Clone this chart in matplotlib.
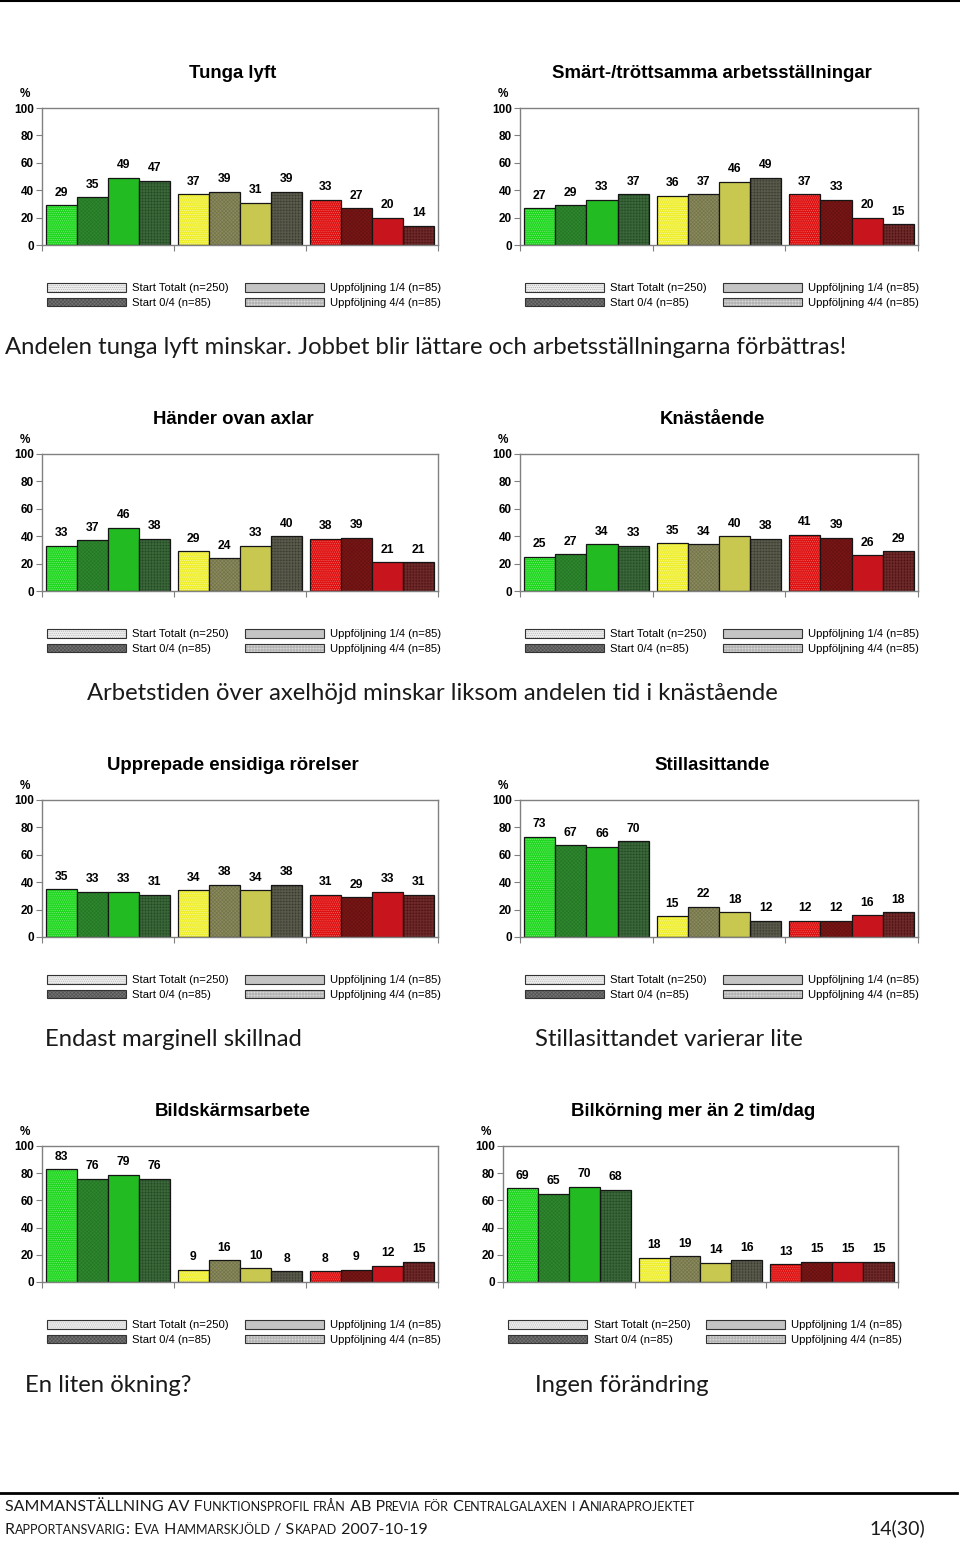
import numpy as np
import matplotlib
matplotlib.use('Agg')
import matplotlib.pyplot as plt
from matplotlib.patches import Patch
from matplotlib.lines import Line2D
from matplotlib.font_manager import FontProperties

W, H = 960, 1541

series = ['Start Totalt (n=250)', 'Start 0/4 (n=85)',
          'Uppföljning 1/4 (n=85)', 'Uppföljning 4/4 (n=85)']

# values per panel: 3 groups (green / yellow / red) x 4 series
tunga_lyft = [[29, 35, 49, 47], [37, 39, 31, 39], [33, 27, 20, 14]]
smart_trott = [[27, 29, 33, 37], [36, 37, 46, 49], [37, 33, 20, 15]]
hander_ovan = [[33, 37, 46, 38], [29, 24, 33, 40], [38, 39, 21, 21]]
knastaende = [[25, 27, 34, 33], [35, 34, 40, 38], [41, 39, 26, 29]]
upprepade = [[35, 33, 33, 31], [34, 38, 34, 38], [31, 29, 33, 31]]
stillasittande = [[73, 67, 66, 70], [15, 22, 18, 12], [12, 12, 16, 18]]
bildskarm = [[83, 76, 79, 76], [9, 16, 10, 8], [8, 9, 12, 15]]
bilkorning = [[69, 65, 70, 68], [18, 19, 14, 16], [13, 15, 15, 15]]

titles = ['Tunga lyft', 'Smärt-/tröttsamma arbetsställningar',
          'Händer ovan axlar', 'Knästående',
          'Upprepade ensidiga rörelser', 'Stillasittande',
          'Bildskärmsarbete', 'Bilkörning mer än 2 tim/dag']
panel_data = [tunga_lyft, smart_trott, hander_ovan, knastaende,
              upprepade, stillasittande, bildskarm, bilkorning]

comments = [
    (5, 348, 'Andelen tunga lyft minskar. Jobbet blir lättare och arbetsställningarna förbättras!'),
    (87, 693, 'Arbetstiden över axelhöjd minskar liksom andelen tid i knästående'),
    (45, 1039, 'Endast marginell skillnad'),
    (535, 1039, 'Stillasittandet varierar lite'),
    (25, 1385, 'En liten ökning?'),
    (535, 1385, 'Ingen förändring'),
]

# bar colours (fill, texture colour) per group and series
fills = [['#1fd61f', '#2e882e', '#22bb22', '#1a401a'],
         ['#eeee2c', '#8a8a5c', '#c8c850', '#303026'],
         ['#de1010', '#7a1616', '#c8141c', '#420808']]
hcols = [['#7cf07c', '#267526', '#22bb22', '#3a663a'],
         ['#fafaa8', '#73734c', '#c8c850', '#5a5a4c'],
         ['#f06a6a', '#641111', '#c8141c', '#6e2a2a']]
hatches = ['.' * 8, 'x' * 9, '', '+' * 11]

leg_fill = ['#eeeeee', '#727272', '#c4c4c4', '#e6e6e6']
leg_hatch = ['#b4b4b4', '#505050', '#b0b0b0', '#b4b4b4']

plt.rcParams['font.family'] = ['Liberation Sans', 'DejaVu Sans']
plt.rcParams['hatch.linewidth'] = 0.45

fig = plt.figure(figsize=(W / 100, H / 100), dpi=100)

# axes positions in pixels: left, right, top(100), bottom(0)
rows = [(108, 245), (454, 591), (800, 937), (1146, 1282)]
cols = [(42, 438), (520, 918)]


def fx(px):
    return px / W


def fy(py):
    return 1 - py / H


def draw_panel(ax, values, title):
    x = np.arange(3)
    w = 0.235
    for s in range(4):
        vals = [values[g][s] for g in range(3)]
        xs = x + (s - 1.5) * w
        ax.bar(xs, vals, w, color=[fills[g][s] for g in range(3)],
               edgecolor=[hcols[g][s] for g in range(3)],
               hatch=hatches[s] or None, linewidth=0)
        ax.bar(xs, vals, w, fill=False, edgecolor='#151515', linewidth=0.9)
        for xx, v in zip(xs, vals):
            ax.annotate(str(v), (xx, v), xytext=(0, 9), textcoords='offset points',
                        ha='center', va='center', fontsize=8.7, fontweight='bold')
    ax.set_xlim(-0.5, 2.5)
    ax.set_ylim(0, 100)
    ax.set_yticks(range(0, 101, 20))
    ax.set_yticklabels([str(v) for v in range(0, 101, 20)], fontsize=8.5, fontweight='bold')
    ax.set_xticks([-0.5, 0.5, 1.5, 2.5])
    ax.set_xticklabels([])
    ax.tick_params(axis='both', length=4, width=0.8, color='#808080', pad=2)
    for sp in ax.spines.values():
        sp.set_color('#808080')
        sp.set_linewidth(1)
    ax.annotate('%', (0, 1), xycoords='axes fraction', xytext=(-12, 10),
                textcoords='offset points', ha='center', va='center',
                fontsize=8.5, fontweight='bold')
    ax.annotate(title, (0.5, 1), xycoords='axes fraction', xytext=(-5, 25),
                textcoords='offset points', ha='center', va='center',
                fontsize=13.4, fontweight='bold')


def legend_handles():
    hs = []
    for s in range(4):
        hs.append((Patch(facecolor=leg_fill[s], edgecolor=leg_hatch[s],
                         hatch=hatches[s] or None, linewidth=0),
                   Patch(fill=False, edgecolor='#333333', linewidth=0.8)))
    return hs


for i, (vals, title) in enumerate(zip(panel_data, titles)):
    r, c = divmod(i, 2)
    top, bot = rows[r]
    left, right = cols[c]
    if i == 7:
        left, right = 503, 898
    ax = fig.add_axes([fx(left), fy(bot), fx(right - left), (bot - top) / H])
    draw_panel(ax, vals, title)
    fig.legend(legend_handles(), series, loc='upper left',
               bbox_to_anchor=(fx(left + 5), fy(bot + 38)),
               bbox_transform=fig.transFigure, ncol=2, frameon=False,
               fontsize=8.1, handlelength=7.0, handleheight=0.82,
               handletextpad=0.6, columnspacing=1.4, labelspacing=0.38,
               borderpad=0, borderaxespad=0)

for x, y, s in comments:
    fig.text(fx(x), fy(y), s, fontsize=17.2, family='Lato', color='#1a1a1a', va='center')

# page border lines
fig.add_artist(Line2D([0, 1], [fy(1), fy(1)], transform=fig.transFigure, color='black', lw=1.5))
fig.add_artist(Line2D([0, 0.997], [fy(1493), fy(1493)], transform=fig.transFigure, color='black', lw=2))

renderer = fig.canvas.get_renderer()


def small_caps(x, y, s, big, small):
    runs = []
    for ch in s:
        low = ch.islower()
        if runs and runs[-1][1] == low:
            runs[-1][0] += ch
        else:
            runs.append([ch, low])
    for txt, low in runs:
        size = small if low else big
        t = txt.upper()
        fig.text(fx(x), fy(y), t, fontsize=size, family='Lato', va='baseline', color='#1a1a1a')
        fp = FontProperties(family='Lato', size=size)
        w1 = renderer.get_text_width_height_descent('|' + t + '|', fp, False)[0]
        w0 = renderer.get_text_width_height_descent('||', fp, False)[0]
        x += w1 - w0


small_caps(5, 1511, 'SAMMANSTÄLLNING AV Funktionsprofil från AB Previa för Centralgalaxen i Aniaraprojektet', 11.5, 9)
small_caps(5, 1534, 'Rapportansvarig: Eva Hammarskjöld / Skapad 2007-10-19', 11.5, 9)
fig.text(fx(925), fy(1534), '14(30)', fontsize=14, family='Lato', ha='right', va='baseline', color='#1a1a1a')

fig.savefig('out.png', dpi=100)
